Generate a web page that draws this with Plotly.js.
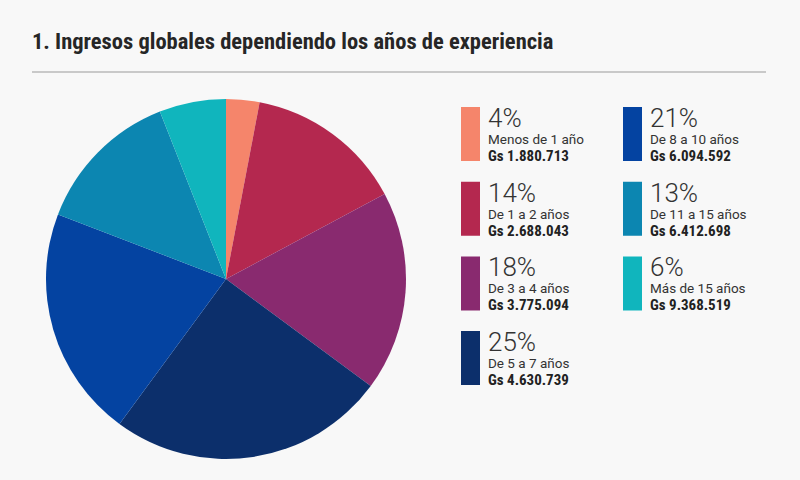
<!DOCTYPE html>
<html>
<head>
<meta charset="utf-8">
<script src="https://cdn.plot.ly/plotly-3.0.1.min.js"></script>
<style>html,body{margin:0;padding:0;background:#f8f8f8;}#chart{width:800px;height:480px;}</style>
</head>
<body>
<div id="chart"></div>
<script>
// Data
const categories = ["Menos de 1 año", "De 1 a 2 años", "De 3 a 4 años", "De 5 a 7 años", "De 8 a 10 años", "De 11 a 15 años", "Más de 15 años"];
const sliceValues = [3, 14.2, 18, 25, 20.8, 13.2, 6];
const percentLabels = ["4%", "14%", "18%", "25%", "21%", "13%", "6%"];
const amountLabels = ["Gs 1.880.713", "Gs 2.688.043", "Gs 3.775.094", "Gs 4.630.739", "Gs 6.094.592", "Gs 6.412.698", "Gs 9.368.519"];
const colors = ["#f5856b", "#b4284f", "#892a6f", "#0c2f6b", "#0443a1", "#0c86b1", "#10b5bd"];

const W = 800, H = 480;
const px = x => x / W;
const py = y => 1 - y / H;

const narrow = "Liberation Sans Narrow, Roboto Condensed, Roboto, sans-serif";
const regular = "Roboto, Noto Sans, sans-serif";

const shapes = [
  {type: 'line', xref: 'paper', yref: 'paper', x0: px(32), x1: px(766), y0: py(72), y1: py(72),
   line: {color: '#c9c9c9', width: 2}}
];
const annotations = [];

categories.forEach((c, i) => {
  const col = i < 4 ? 0 : 1;
  const row = i < 4 ? i : i - 4;
  const rx = col === 0 ? 461 : 623;
  const top = 107 + row * 74.7;
  shapes.push({type: 'rect', xref: 'paper', yref: 'paper', x0: px(rx), x1: px(rx + 19),
    y0: py(top), y1: py(top + 54), fillcolor: colors[i], line: {width: 0}});
  const tx = px(rx + 26);
  annotations.push({xref: 'paper', yref: 'paper', x: tx, y: py(top + 11), xanchor: 'left', yanchor: 'middle',
    text: percentLabels[i], showarrow: false, borderpad: 0,
    font: {family: regular, size: 26, color: '#333333', weight: 300}});
  annotations.push({xref: 'paper', yref: 'paper', x: tx, y: py(top + 32), xanchor: 'left', yanchor: 'middle',
    text: c, showarrow: false, borderpad: 0,
    font: {family: regular, size: 13.5, color: '#333333'}});
  annotations.push({xref: 'paper', yref: 'paper', x: tx, y: py(top + 49), xanchor: 'left', yanchor: 'middle',
    text: '<b>' + amountLabels[i] + '</b>', showarrow: false, borderpad: 0,
    font: {family: narrow, size: 15, color: '#222222'}});
});

const trace = {
  type: 'pie',
  labels: categories,
  values: sliceValues,
  sort: false,
  direction: 'clockwise',
  rotation: 0,
  marker: {colors: colors, line: {width: 0}},
  textinfo: 'none',
  hoverinfo: 'skip',
  showlegend: false,
  domain: {x: [px(46), px(406)], y: [py(459), py(99)]}
};

const layout = {
  width: W, height: H,
  margin: {l: 0, r: 0, t: 0, b: 0},
  paper_bgcolor: '#f8f8f8',
  plot_bgcolor: '#f8f8f8',
  showlegend: false,
  title: {text: '<b>1. Ingresos globales dependiendo los años de experiencia</b>',
    x: px(32), xanchor: 'left', xref: 'paper', y: py(41), yanchor: 'middle', yref: 'paper',
    font: {family: narrow, size: 22.5, color: '#262626'}},
  shapes: shapes,
  annotations: annotations
};

Plotly.newPlot('chart', [trace], layout, {displayModeBar: false, staticPlot: true});
</script>
</body>
</html>
